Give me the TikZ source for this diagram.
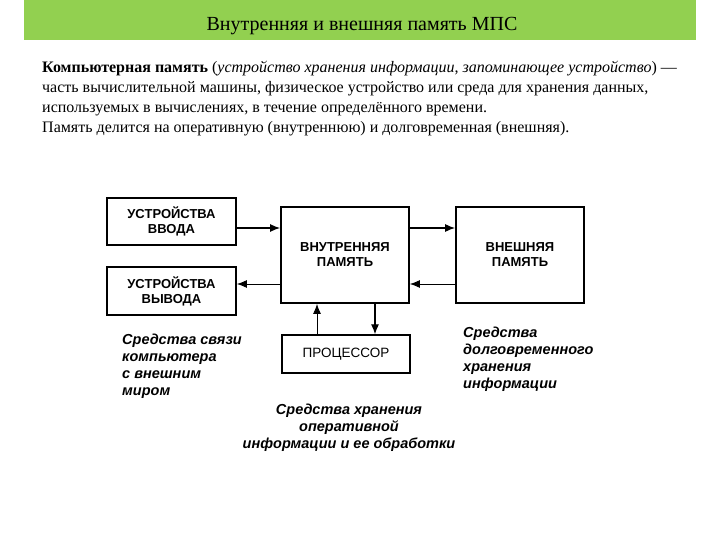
\documentclass[tikz,border=0pt]{standalone}
\usepackage{fontspec}
\setmainfont{Liberation Serif}
\setsansfont{Liberation Sans}
\usetikzlibrary{arrows.meta}
\definecolor{bandgreen}{RGB}{146,208,80}
\begin{document}
\begin{tikzpicture}[x=1pt,y=-1pt,
  blockbox/.style={draw,line width=1.8pt,fill=white,inner sep=0pt,align=center,
    font=\sffamily\bfseries\fontsize{13}{15}\selectfont},
  conn/.style={-{Latex[length=10pt,width=8pt]},line width=1.2pt},
  note/.style={font=\sffamily\bfseries\itshape\fontsize{14.5}{16.8}\selectfont,inner sep=0pt},
  bodyline/.style={anchor=base west,inner sep=0pt,font=\fontsize{16}{20}\selectfont}]
\useasboundingbox (0,0) rectangle (720,540);
\fill[white] (0,0) rectangle (720,540);
\fill[bandgreen] (24,0) rectangle (696,40);
\node[font=\fontsize{20}{22}\selectfont,anchor=base,inner sep=0pt] (title) at (362,31) {Внутренняя и внешняя память МПС};

\node[bodyline] (l1) at (42,73) {\textbf{Компьютерная память} (\textit{устройство хранения информации}, \textit{запоминающее устройство}) —};
\node[bodyline] (l2) at (42,93) {часть вычислительной машины, физическое устройство или среда для хранения данных,};
\node[bodyline] (l3) at (42,113) {используемых в вычислениях, в течение определённого времени.};
\node[bodyline] (l4) at (42,133) {Память делится на оперативную (внутреннюю) и долговременная (внешняя).};

% blocks
\node[blockbox,minimum width=129pt,minimum height=47pt] (inp) at (171.5,221.5) {УСТРОЙСТВА\\ВВОДА};
\node[blockbox,minimum width=129pt,minimum height=48pt] (outp) at (171.5,291) {УСТРОЙСТВА\\ВЫВОДА};
\node[blockbox,minimum width=128pt,minimum height=96pt] (intm) at (345,255) {ВНУТРЕННЯЯ\\ПАМЯТЬ};
\node[blockbox,minimum width=128pt,minimum height=96pt] (extm) at (520,255) {ВНЕШНЯЯ\\ПАМЯТЬ};
\node[blockbox,minimum width=128pt,minimum height=38pt,line width=1.3pt,font=\sffamily\fontsize{13.5}{15}\selectfont] (cpu) at (346,354) {ПРОЦЕССОР};

% connectors
\draw[conn] (inp.east |- 0,228) -- (intm.west |- 0,228);
\draw[conn,line width=0.9pt] (intm.west |- 0,284) -- (outp.east |- 0,284);
\draw[conn] (intm.east |- 0,228) -- (extm.west |- 0,228);
\draw[conn,line width=0.9pt] (extm.west |- 0,284) -- (intm.east |- 0,284);
\draw[conn,line width=0.9pt] (cpu.north -| 317,0) -- (intm.south -| 317,0);
\draw[conn] (intm.south -| 375,0) -- (cpu.north -| 375,0);

% notes
\node[note,anchor=north west,align=left] (n1) at (122,334) {Средства связи\\компьютера\\с внешним\\миром};
\node[note,anchor=north west,align=left] (n2) at (463,327) {Средства\\долговременного\\хранения\\информации};
\node[note,anchor=north,align=center] (n3) at (349,404) {Средства хранения\\оперативной\\информации и ее обработки};
\end{tikzpicture}
\end{document}
